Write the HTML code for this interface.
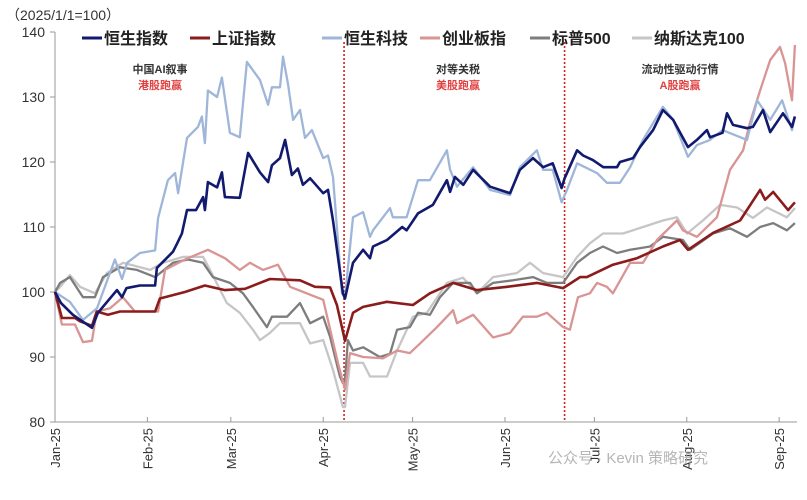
<!DOCTYPE html>
<html><head><meta charset="utf-8">
<style>
body{margin:0;background:#fff;}
svg{display:block;font-family:"Liberation Sans","Noto Sans CJK SC",sans-serif;}
</style></head>
<body>
<svg id="chart" width="807" height="500" viewBox="0 0 807 500">
<text x="6" y="20" font-size="14" fill="#333">（2025/1/1=100）</text>
<g id="legend"></g>
<g id="axes"></g>
<g id="series"></g>
<g font-size="11" font-weight="bold" text-anchor="middle">
<text x="160" y="73" fill="#333">中国AI叙事</text>
<text x="160" y="89" fill="#e04040">港股跑赢</text>
<text x="458" y="73" fill="#333">对等关税</text>
<text x="458" y="89" fill="#e04040">美股跑赢</text>
<text x="680" y="73" fill="#333">流动性驱动行情</text>
<text x="680" y="89" fill="#e04040">A股跑赢</text>
</g>
<text x="548" y="463" font-size="15" fill="#aaa" opacity="0.85">公众号 · Kevin 策略研究</text>
</svg>
<script>
var yTicks=[80,90,100,110,120,130,140];
var monthLabels=["Jan-25","Feb-25","Mar-25","Apr-25","May-25","Jun-25","Jul-25","Aug-25","Sep-25"];
var monthDays=[0,31,59,90,120,151,181,212,243];
var eventDays=[97,171];
var seriesNames=["纳斯达克100","标普500","创业板指","上证指数","恒生科技","恒生指数"];

var ndxDays=[0,1.7,5,8.4,13.4,17.4,22.8,31.9,36.2,43,49.7,52,57.7,62,66.4,68.8,72.1,75.5,82.2,85.6,90,93.3,96.6,97.3,99,103.4,105.7,111.4,114.8,120.1,124.8,131.5,136.9,141.6,147,155,159.4,163.8,170.5,175.2,179.5,183.9,190.6,197.3,204,208.7,212.1,217.4,223.2,228.9,234.2,238.9,245.6,248.3];
var ndxVals=[100,100.8,102.6,100.8,99.8,102.9,104.5,103.4,104.5,105.4,105.4,103.4,98.3,96.8,94.2,92.6,93.7,95.2,95.2,92.1,92.6,88,82.3,82.3,89.1,89.1,87,87,91,96.2,96.8,101.4,102.2,99.8,102.3,102.9,104.5,102.9,102.3,105.4,107.5,109,109,110,111,111.5,109,111,113.4,113,111.4,113,111.5,112.9];

var spxDays=[0,1.7,5,9.4,13.4,16.1,21.8,27.5,33.6,39.6,44.6,49.7,53,58.7,63.1,66.4,71.1,72.8,77.9,82.2,85.6,90,92.3,95.6,96.6,97.3,98.3,100,103.4,109,112.4,114.8,119.1,121.8,125.8,129.2,133.6,139.3,141.6,147,153.7,160.4,165.1,170.5,175.2,179.5,183.9,188.6,193,199.7,204,210.7,213.1,220.8,226.5,232.2,236.6,241,245.6,248.3];
var spxVals=[100,101.4,102.3,99.2,99.2,102.3,103.8,103.4,102.3,104.5,105,104.5,102.3,101.4,99.8,97.7,94.6,96.2,96.2,98.3,95.2,96.2,93.1,87,86,86.5,92.6,91,91.5,90,90.5,94.2,94.6,96.8,96.5,99.2,101.4,101.4,99.8,101.4,101.8,102.3,101.4,101.4,104.5,106,107,106,106.5,107,108.5,108,106.5,109,109.8,108.5,110,110.6,109.5,110.6];

var cnxDays=[0,2.3,6.7,9.4,12.4,14,18.5,22.8,26.8,34.6,36.9,43.6,51.3,57,62,65.4,69.8,74.8,78.9,90,95,97.3,99,103.4,110.1,114.8,119.1,122.5,128.2,133.6,134.9,140.3,147,152.7,157,161.7,165.1,170.5,172.8,175.5,179.5,181.9,185.2,187.2,193,197.3,202,208.7,210.7,215.4,222.1,226.5,230.9,233.2,236.6,240,243.3,245,247.3,248.3];
var cnxVals=[100,95,95,92.3,92.5,97,97.5,99.2,97,97,103.4,105,106.5,105.2,103.4,104.5,103.4,104.2,100.8,98.8,89,85,90.6,90,89.8,91,90.6,92.1,94.6,97.2,95.2,96.5,93,93.7,96.2,96.2,96.8,94.6,94.2,99.2,99.8,101.4,100.8,99.8,104.5,104.5,108,111,109.5,108.5,111.5,118.8,121.8,126,131,135.7,137.7,135.2,129.5,138];

var shDays=[0,2.3,6.7,8.4,12.4,14,17.8,21.8,33.6,35.2,43.6,50.3,57,63.8,72.1,82.2,87.2,92.3,94.6,97.3,100,103.4,111.4,120.1,125.8,133.6,141.6,151.7,161.7,170.5,176.2,178.5,187.2,195.3,204,209.7,212.4,220.8,229.9,236.6,238.3,241,246,248.3];
var shVals=[100,96,96,95.5,94.8,97,96.5,97,97,99,100,101,100.3,100.5,102,101.8,100.8,100.7,98,92.5,96.8,97.7,98.5,98,99.8,101.4,100.3,100.8,101.4,100.6,102.3,102.3,104.2,105.2,107,108,106.5,109.1,111,115.7,114.2,115.4,112.6,113.8];

var hstDays=[0,5,9.4,14.1,20.1,22.5,24.2,28.5,33.6,34.6,37.9,40.3,41.3,44.3,48,49.3,50.3,51.3,54.4,56,58.7,62,64.4,68.8,71.5,72.8,75.5,76.5,78.2,79.9,82.2,83.9,86.2,90,91.6,93.3,96.3,97.3,100,103.4,105.7,106.7,112.4,113.4,118,121.8,125.8,131.5,132.6,134.9,140.3,146,152.7,156,161.7,163.8,167,170,171.8,175.2,181.9,185.2,189.6,193,197.3,204,207.4,212.4,215.4,219.8,224,232.2,235.6,240,244,247.3,248.3];
var hstVals=[100,98.5,95.7,97.5,105,102,104.5,106,106.4,111.4,117.2,118.3,115.2,123.7,125.4,127,122.9,131,130,133,124.5,123.8,135.4,132.6,128.8,131.5,131.5,136.2,132,126.5,128,123.7,124.9,120.6,121,117.7,99.8,99.2,111.5,112.3,108.5,109.5,112.9,111.5,111.5,117.2,117.2,121.8,118.8,116.2,119.2,115.7,114.9,119.2,121.8,118.8,118.8,113.8,115.7,119.8,118.3,116.8,116.8,119.2,123.4,128.5,126.5,120.8,122.6,123.4,124.9,123.4,129.5,126.5,129.5,124.9,127];

var hsiDays=[0,2,6,12.4,14.4,20.8,22.5,24,28.5,33.6,34.2,39.6,41,42.6,44.3,47.3,49.7,50.3,51.3,54.4,56,57,62,64.8,68.8,71.5,72.8,75.5,77.2,79.5,81.5,83.2,85.6,90,91.6,93.3,96.6,97.3,100,103.4,105.7,106.7,111.4,116.5,118,121.8,126.8,131.5,132.6,134.2,137,140.3,146,152.7,156,160.4,163.8,167,170,171,175.2,177.2,180.5,184,188.6,189.6,194,196.3,200.7,204,207.4,212.4,215.4,218.8,219.8,224,225.5,227.5,232.2,234.2,237.6,240,244.3,247.3,248.3];
var hsiVals=[100,98.3,96.5,94.5,96.8,100.3,99.2,100.6,101,101,103.7,106.2,107.5,109,112.6,112.6,114.6,112.6,116.9,116.1,118.4,114.6,114.5,121.4,118.4,116.9,119.5,120.6,123.4,118,119,116.5,117.5,115.2,115.7,111,99.8,99,104.5,106.5,105.2,107,108,110,109.5,112.1,113.4,117.2,115.4,117.7,116.5,118.8,116.2,115.2,118.8,120.6,119.2,119.8,116,117.5,121.8,121,120.3,119.2,119.2,120,120.6,122.3,124.9,128,126.5,122.3,123.4,124.9,123.8,124.5,127.5,125.7,125.2,125.4,128,124.6,127.5,125.4,127];

var NS='http://www.w3.org/2000/svg';
function xScale(d){return 55+d*2.98;}
function yScale(v){return 422-(v-80)*6.5;}
function mk(tag,attrs,parent){var e=document.createElementNS(NS,tag);for(var k in attrs)e.setAttribute(k,attrs[k]);parent.appendChild(e);return e;}

var axes=document.getElementById('axes');
var yl=mk('line',{x1:55,y1:32,x2:55,y2:422,stroke:'#999','stroke-width':1},axes);


var xl=mk('line',{x1:55,y1:422,x2:797,y2:422,stroke:'#999','stroke-width':1},axes);


yTicks.forEach(function(t){
  var y=yScale(t);
  var tk=mk('line',{x1:50,y1:y,x2:55,y2:y,stroke:'#999'},axes);
  
  
  var tx=mk('text',{x:45,y:y+5,'text-anchor':'end','font-size':14,fill:'#333'},axes);
  tx.textContent=t;
  
  
});
monthLabels.forEach(function(m,i){
  var x=xScale(monthDays[i]);
  var tk=mk('line',{x1:x,y1:417,x2:x,y2:422,stroke:'#999'},axes);
  
  
  var tx=mk('text',{x:0,y:0,'text-anchor':'end','font-size':13,fill:'#333',transform:'translate('+(x+5)+',428) rotate(-90)'},axes);
  tx.textContent=m;
  
  
});
eventDays.forEach(function(d){
  var x=xScale(d);
  var l=mk('line',{x1:x,y1:42,x2:x,y2:422,stroke:'#d02020','stroke-width':1.6,'stroke-dasharray':'2,2'},axes);
  
  
});

var seriesData=[[ndxDays,ndxVals,'#c6c6c6'],[spxDays,spxVals,'#7d7d7d'],[cnxDays,cnxVals,'#d99494'],[shDays,shVals,'#8b1c1c'],[hstDays,hstVals,'#9fb6d9'],[hsiDays,hsiVals,'#111a6e']];
var keys=['line-nasdaq100','line-sp500','line-chinext','line-shanghai','line-hstech','line-hsi'];
var sg=document.getElementById('series');
seriesData.forEach(function(s,i){
  var pts=s[0].map(function(d,j){return xScale(d).toFixed(1)+','+yScale(s[1][j]).toFixed(1);}).join(' ');
  var p=mk('polyline',{points:pts,fill:'none',stroke:s[2],'stroke-width':(i==5||i==3)?2.6:2.3,'stroke-linejoin':'round'},sg);
  
  
});

var lg=document.getElementById('legend');
var legOrder=[5,3,4,2,1,0];
var legX=[82,190,322,420,530,632];
legOrder.forEach(function(si,k){
  var x=legX[k];
  var l=mk('line',{x1:x,y1:38,x2:x+20,y2:38,stroke:seriesData[si][2],'stroke-width':3},lg);
  
  
  var t=mk('text',{x:x+22,y:44,'font-size':16,'font-weight':'bold',fill:'#222'},lg);
  t.textContent=seriesNames[si];
  
  
});
</script>
</body></html>
